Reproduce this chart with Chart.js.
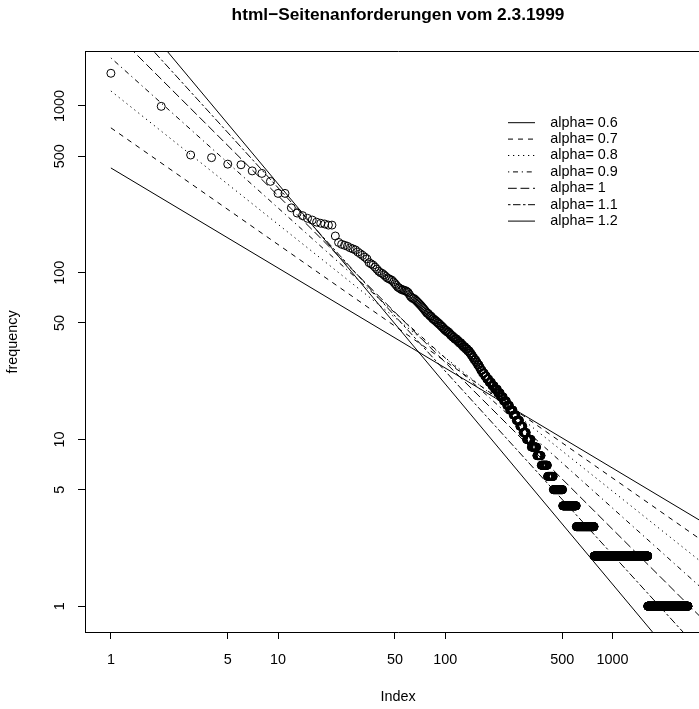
<!DOCTYPE html>
<html>
<head>
<meta charset="utf-8">
<title>html-Seitenanforderungen</title>
<script src="https://cdn.jsdelivr.net/npm/chart.js@4.4.1/dist/chart.umd.min.js"></script>
<style>
  html, body { margin: 0; padding: 0; background: #fff; overflow: hidden; }
  #wrap { width: 740px; height: 709px; }
</style>
</head>
<body>
<div id="wrap"><canvas id="zipfChart" width="740" height="709"></canvas></div>
<script>
// page request frequencies (descending) and how many pages had each frequency
const freqLevels = [
  1571, 995, 508, 490, 448, 444, 408, 394, 353, 299, 245, 228, 220, 212, 207, 201, 198, 196, 193,
  166, 152, 148, 146, 144, 141, 139, 137, 133, 130, 127, 124, 121, 115, 113, 111, 108, 105, 102, 100,
  99, 97, 95, 93, 92, 91, 90, 88, 86, 84, 82, 81, 80, 79, 78, 77, 76, 74, 72, 71,
  70, 69, 68, 67, 66, 65, 64, 63, 62, 61, 60, 59, 58, 57, 56, 55, 54, 53, 52, 51,
  50, 49, 48, 47, 46, 45, 44, 43, 42, 41, 40, 39, 38, 37, 36, 35, 34, 33, 32, 31,
  30, 29, 28, 27, 26, 25, 24, 23, 22, 21, 20, 19, 18, 17, 16, 15, 14, 13, 12, 11,
  10, 9, 8, 7, 6, 5, 4, 3, 2, 1
];
const pageCounts = [
  1, 1, 1, 1, 1, 1, 1, 1, 1, 2, 1, 1, 1, 1, 1, 1, 1, 1, 2,
  1, 1, 1, 1, 1, 1, 1, 1, 1, 1, 1, 1, 1, 1, 1, 1, 1, 1, 1, 1,
  1, 1, 1, 1, 1, 1, 1, 1, 1, 1, 1, 1, 1, 2, 2, 1, 1, 1, 1, 1,
  2, 1, 1, 1, 1, 1, 1, 1, 1, 1, 1, 1, 1, 2, 1, 2, 1, 2, 2, 2,
  2, 2, 2, 2, 2, 3, 3, 2, 3, 3, 4, 3, 4, 3, 4, 4, 4, 3, 3, 3,
  4, 3, 4, 3, 4, 5, 5, 6, 7, 7, 9, 8, 9, 10, 10, 12, 11, 13, 13, 14,
  21, 26, 22, 34, 34, 61, 104, 169, 849, 1202
];

// Zipf fits: value at index 1 and at index 5000 for each alpha
const alphas = [0.6, 0.7, 0.8, 0.9, 1, 1.1, 1.2];
const fitRange = [1, 5000];
const fitAtFirst = [424.9, 739.5, 1230.7, 1943, 2897, 4070, 5402];
const fitAtLast = [2.564, 1.904, 1.352, 0.9107, 0.5794, 0.3471, 0.1966];

const xTickValues = [1, 5, 10, 50, 100, 500, 1000];
const yTickValues = [1, 5, 10, 50, 100, 500, 1000];

const chartTitle = 'html\u2212Seitenanforderungen vom 2.3.1999';

// R line types 1..6, then back to solid
const lineDashes = [[], [5, 5], [1.25, 3.75], [1.25, 3.75, 5, 3.75], [8.75, 3.75], [2.5, 2.5, 7.5, 2.5], []];

const fontFamily = '"Liberation Sans", Arial, Helvetica, sans-serif';
const baseFont = { family: fontFamily, size: 14.4 };

// expand the frequency table into rank/frequency points
const points = [];
let rank = 1;
freqLevels.forEach((f, i) => {
  for (let k = 0; k < pageCounts[i]; k++) {
    points.push({ x: rank, y: f });
    rank++;
  }
});

// R-style 4% extension of the log ranges
function logRange(lo, hi) {
  const a = Math.log10(lo), b = Math.log10(hi), d = (b - a) * 0.04;
  return [Math.pow(10, a - d), Math.pow(10, b + d)];
}
const xRange = logRange(1, points.length);
const yRange = logRange(Math.min(...freqLevels), Math.max(...freqLevels));

const datasets = [{
  label: 'frequency',
  data: points,
  showLine: false,
  pointRadius: 4,
  pointBorderWidth: 1,
  pointBackgroundColor: 'rgba(0,0,0,0)',
  pointBorderColor: '#000',
  borderColor: '#000'
}];

alphas.forEach((a, i) => {
  datasets.push({
    label: 'alpha= ' + a,
    data: [{ x: fitRange[0], y: fitAtFirst[i] }, { x: fitRange[1], y: fitAtLast[i] }],
    showLine: true,
    borderColor: '#000',
    backgroundColor: '#000',
    borderWidth: 1,
    borderDash: lineDashes[i],
    pointRadius: 0
  });
});

// put the legend where R drew it, inside the plot region
const legendSpot = {
  id: 'legendSpot',
  afterLayout(chart) {
    const lg = chart.legend;
    if (!lg) return;
    const pad = lg.options.labels.padding;
    lg.left = 508 - pad;
    lg.top = 115.5 - pad;
    lg.width = 200;
    lg.height = 200;
    lg.right = lg.left + lg.width;
    lg.bottom = lg.top + lg.height;
  }
};

new Chart(document.getElementById('zipfChart'), {
  type: 'scatter',
  data: { datasets: datasets },
  options: {
    responsive: false,
    animation: false,
    events: [],
    layout: { padding: { left: 0, right: 29, top: 0, bottom: 0 } },
    plugins: {
      title: {
        display: true,
        text: chartTitle,
        fullSize: false,
        color: '#000',
        font: { family: fontFamily, size: 17.3, weight: 'bold' },
        padding: { top: 4.6, bottom: 26.6 }
      },
      legend: {
        display: true,
        position: 'chartArea',
        align: 'start',
        labels: {
          usePointStyle: true,
          pointStyle: 'line',
          pointStyleWidth: 27,
          padding: 2,
          color: '#000',
          font: baseFont,
          filter: item => item.datasetIndex > 0,
          // point style hides the dash pattern, so copy it from the line datasets
          generateLabels: chart => Chart.defaults.plugins.legend.labels.generateLabels(chart)
            .map(item => Object.assign(item, {
              text: '  ' + item.text,
              lineWidth: 1,
              strokeStyle: '#000',
              lineDash: item.datasetIndex > 0 ? lineDashes[item.datasetIndex - 1] : []
            }))
        }
      },
      tooltip: { enabled: false }
    },
    scales: {
      x: {
        type: 'logarithmic',
        position: 'bottom',
        min: xRange[0],
        max: xRange[1],
        afterBuildTicks: s => { s.ticks = xTickValues.map(v => ({ value: v })); },
        afterFit: s => { s.height = 77; },
        ticks: { autoSkip: false, maxRotation: 0, color: '#000', font: baseFont, padding: 12, callback: v => String(v) },
        grid: { drawOnChartArea: false, drawTicks: true, tickLength: 7, color: '#000', lineWidth: 1 },
        border: { display: true, color: '#000', width: 1 },
        title: { display: true, text: 'Index', color: '#000', font: baseFont, padding: { top: 0, bottom: 3.4 } }
      },
      y: {
        type: 'logarithmic',
        position: 'left',
        min: yRange[0],
        max: yRange[1],
        afterBuildTicks: s => { s.ticks = yTickValues.map(v => ({ value: v })); },
        afterFit: s => { s.width = 85; },
        ticks: { autoSkip: false, minRotation: 90, maxRotation: 90, crossAlign: 'center', color: '#000', font: baseFont, padding: 2, callback: v => String(v) },
        grid: { drawOnChartArea: false, drawTicks: true, tickLength: 7, color: '#000', lineWidth: 1 },
        border: { display: true, color: '#000', width: 1 },
        title: { display: true, text: 'frequency', color: '#000', font: baseFont, padding: { top: 4.4, bottom: 0 } }
      },
      top: {
        type: 'linear',
        position: 'top',
        min: 0,
        max: 1,
        afterFit: s => { s.height = 0; },
        ticks: { display: false },
        grid: { display: false },
        border: { display: true, color: '#000', width: 1 }
      }
    }
  },
  plugins: [legendSpot]
});
</script>
</body>
</html>
